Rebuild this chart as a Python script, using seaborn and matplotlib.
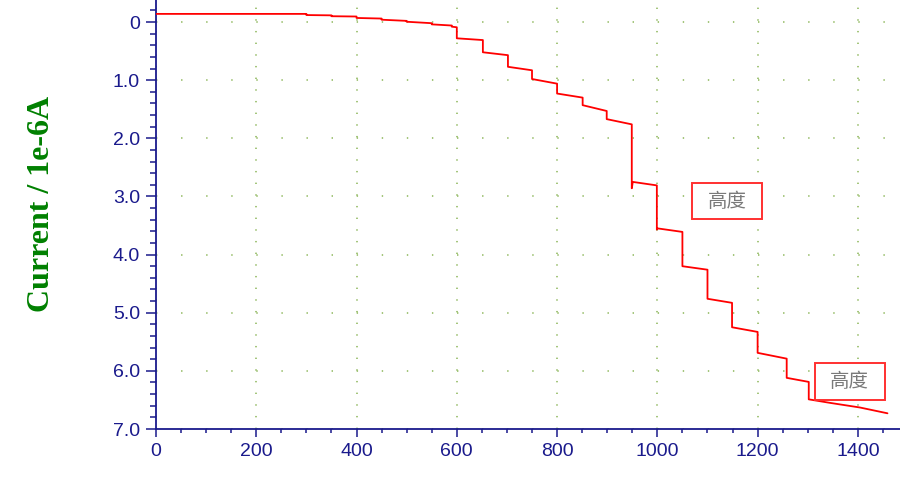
import matplotlib
matplotlib.use("Agg")
import matplotlib.pyplot as plt
import matplotlib.ticker as mticker
from matplotlib.path import Path
import seaborn as sns
import pandas as pd

# ---- data ----
time_s = [0, 300, 300, 350, 350, 400, 400, 450, 450, 500, 500, 550, 550, 590, 590, 600,
          600, 652, 652, 702, 702, 750, 750, 800, 800, 851, 851, 899, 899, 949,
          949, 951, 999, 999, 1001, 1050, 1050, 1100, 1100, 1149, 1149, 1200,
          1200, 1258, 1258, 1302, 1302, 1344, 1404, 1459]
current = [-0.14, -0.14, -0.12, -0.115, -0.10, -0.095, -0.07, -0.06, -0.04, -0.02, -0.005, 0.02, 0.04, 0.06, 0.08, 0.09,
           0.28, 0.31, 0.52, 0.57, 0.77, 0.83, 0.98, 1.06, 1.23, 1.30, 1.43, 1.53, 1.67, 1.76,
           2.86, 2.75, 2.81, 3.57, 3.55, 3.61, 4.20, 4.26, 4.76, 4.83, 5.25, 5.33,
           5.69, 5.79, 6.12, 6.19, 6.49, 6.55, 6.63, 6.73]

xticks = [0, 200, 400, 600, 800, 1000, 1200, 1400]
yticks = [0, 1, 2, 3, 4, 5, 6, 7]
ytick_labels = ["0", "1.0", "2.0", "3.0", "4.0", "5.0", "6.0", "7.0"]
ylabel = "Current / 1e-6A"
annot_text = ["高度", "高度"]
annot_x = [1139, 1384]
annot_y = [3.08, 6.18]

df = pd.DataFrame({"t": time_s, "i": current})

sns.set_theme(style="white")
plt.rcParams["lines.scale_dashes"] = False
plt.rcParams["font.family"] = ["Liberation Sans", "DejaVu Sans"]

navy = "#1a1a8c"
fig = plt.figure(figsize=(9, 4.83), dpi=100)
ax = fig.add_axes([156 / 900, 1 - 429 / 483, 1 - 156 / 900, 429 / 483])

# dotted grid
ax.grid(False)
for x in xticks:
    ax.axvline(x, color="#9cc070", lw=1.3, ls=(0, (1.0, 7.4)), zorder=0)
for y in yticks:
    ax.axhline(y, color="#9cc070", lw=1.3, ls=(0, (1.0, 17.06)), zorder=0)

sns.lineplot(data=df, x="t", y="i", sort=False, estimator=None, color="#ff0000",
             lw=1.3, ax=ax, zorder=3)

ax.set_xlim(0, 1484)
ax.set_ylim(7.0, -0.379)

ax.set_xticks(xticks)
ax.xaxis.set_minor_locator(mticker.MultipleLocator(50))
ax.set_yticks(yticks)
ax.set_yticklabels(ytick_labels)
ax.yaxis.set_minor_locator(mticker.MultipleLocator(0.2))

for s in ["top", "right"]:
    ax.spines[s].set_visible(False)
for s in ["left", "bottom"]:
    ax.spines[s].set_color(navy)
    ax.spines[s].set_linewidth(1.3)

ax.tick_params(axis="x", which="major", direction="out", length=6, width=1.1,
               color=navy, labelcolor=navy, labelsize=14, pad=4, bottom=True)
ax.tick_params(axis="x", which="minor", direction="out", length=3, width=1.1,
               color=navy, bottom=True)
ax.tick_params(axis="y", which="major", direction="out", length=7.5, width=1.1,
               color=navy, labelcolor=navy, labelsize=14, pad=4, left=True)
ax.tick_params(axis="y", which="minor", direction="out", length=4.5, width=1.1,
               color=navy, left=True)
ax.set_xlabel("")
ax.set_ylabel("")

fig.text(42 / 900, 1 - 203.5 / 483, ylabel, rotation=90, ha="center", va="center",
         fontsize=23, fontweight="bold", color="#008000",
         family=["Liberation Serif", "DejaVu Serif"])


def wide_box(x0, y0, width, height, mutation_size):
    px = 0.8 * mutation_size
    py = 0.4 * mutation_size
    x0, y0 = x0 - px, y0 - py
    x1, y1 = x0 + width + 2 * px, y0 + height + 2 * py
    return Path([(x0, y0), (x1, y0), (x1, y1), (x0, y1), (x0, y0)], closed=True)


for txt, xa, ya in zip(annot_text, annot_x, annot_y):
    ax.text(xa, ya, txt, ha="center", va="center", fontsize=14, color="#7a7a7a",
            family=["Noto Sans CJK SC", "DejaVu Sans"], zorder=5,
            bbox=dict(boxstyle=wide_box, facecolor="white", edgecolor="#ff3030", lw=1.4))

fig.savefig("out.png", dpi=100)
